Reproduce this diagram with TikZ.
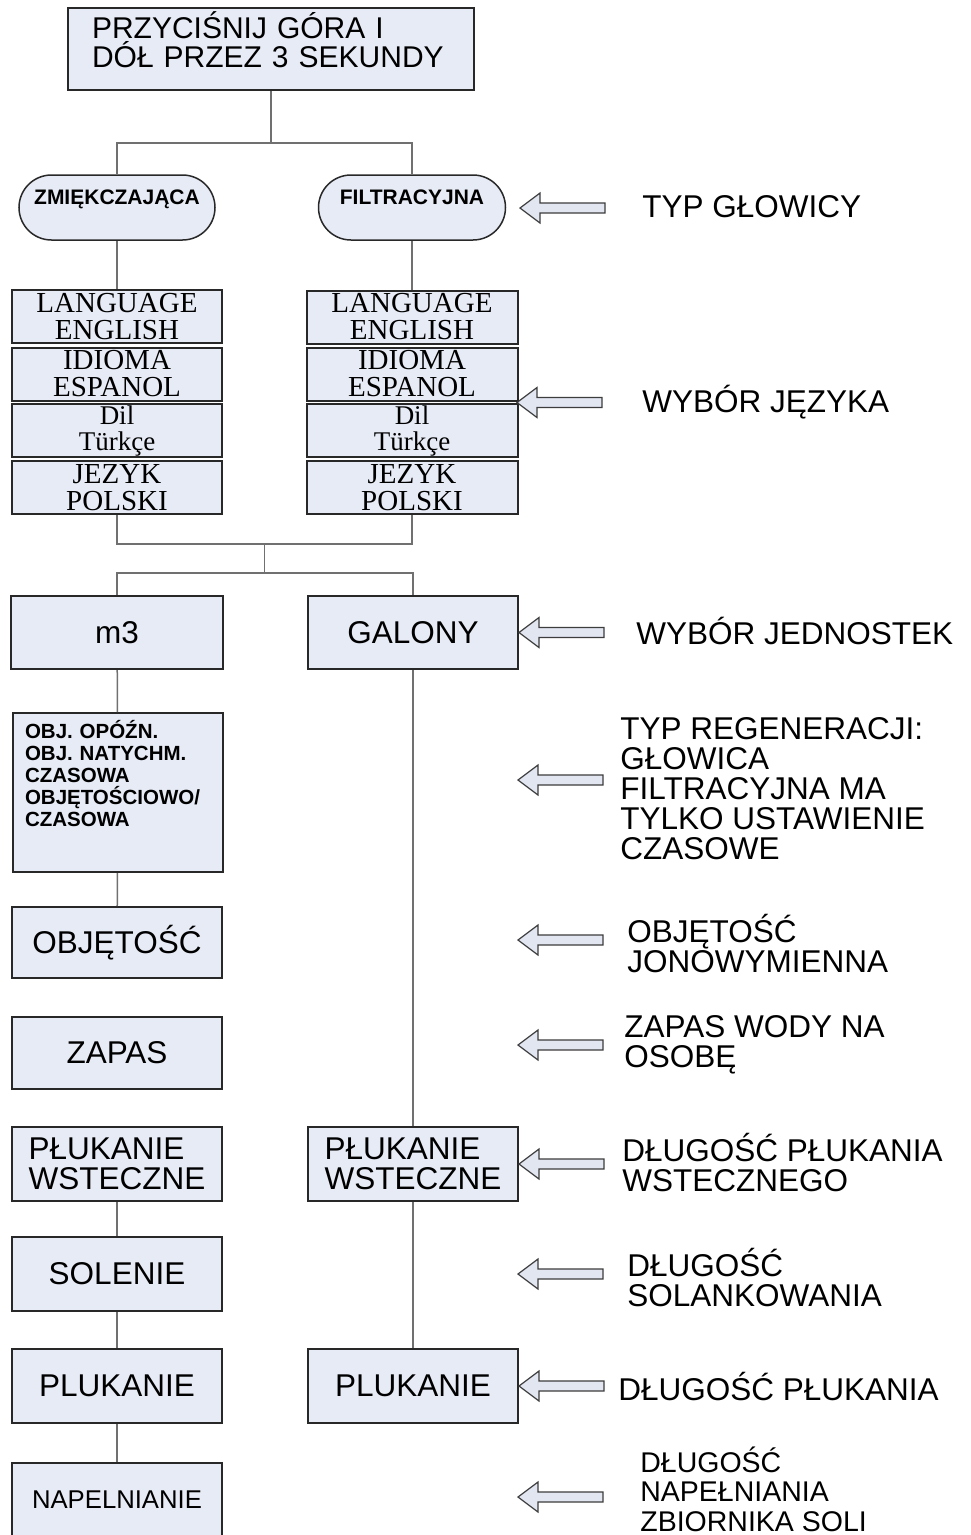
\documentclass[tikz,border=0pt]{standalone}
\usepackage{fontspec}
\setmainfont{Liberation Sans}
\newfontfamily\serifface{Liberation Serif}
\usetikzlibrary{shapes.misc,calc}

\definecolor{boxfill}{RGB}{231,235,245}
\definecolor{boxline}{RGB}{40,40,40}
\definecolor{linkgray}{RGB}{112,112,112}
\definecolor{hintfill}{RGB}{226,230,241}

\tikzset{every picture/.style={line width=0.75pt}}
\tikzset{
  stepbox/.style={draw=boxline, fill=boxfill, line width=2pt, minimum width=210, minimum height=73,
    inner sep=0pt, align=center, font=\fontsize{31.5}{30}\selectfont},
  ovalbox/.style={rounded rectangle, draw=boxline, fill=boxfill, line width=1.5pt, minimum height=65,
    inner sep=0pt, text height=15, text depth=21, font=\bfseries\fontsize{21}{22}\selectfont},
  langbox/.style={stepbox, minimum height=53, font=\serifface\fontsize{29}{27}\selectfont},
  link/.style={draw=linkgray, line width=1.5pt},
  hint/.style={draw=boxline!90, fill=hintfill, line width=1.2pt, line join=miter},
  hinttext/.style={anchor=west, align=left, inner sep=0pt, font=\fontsize{31.5}{30}\selectfont}
}

% block arrow pointing left, tip at #1
\newcommand{\hintarrow}[1]{\draw[hint] #1 -- ++(20,-15) -- ++(0,10) -- ++(65,0) -- ++(0,10) -- ++(-65,0) -- ++(0,10) -- cycle;}

\begin{document}
\begin{tikzpicture}[x=1pt,y=1pt,yscale=-1,xscale=1]
\fill[white] (0,0) rectangle (971,1535);
\clip (0,0) rectangle (971,1535);

% Start
\node[stepbox, minimum width=406, minimum height=82, text width=358, align=left,
  text height=21, text depth=42, font=\fontsize{30}{29}\selectfont] (start) at (271,49)
  {PRZYCIŚNIJ GÓRA I\\DÓŁ PRZEZ 3 SEKUNDY};

% Head type
\node[ovalbox, minimum width=196] (ovL) at (117,207.5) {ZMIĘKCZAJĄCA};
\node[ovalbox, minimum width=187] (ovR) at (412,207.5) {FILTRACYJNA};

% Language
\node[langbox] (lgL1) at (117,316.5) {LANGUAGE\\ENGLISH};
\node[langbox] (lgL2) at (117,374) {IDIOMA\\ESPANOL};
\node[langbox, font=\serifface\fontsize{27}{26}\selectfont] (lgL3) at (117,430.5) {Dil\\Türkçe};
\node[langbox] (lgL4) at (117,487.5) {JEZYK\\POLSKI};
\node[langbox, minimum width=211] (lgR1) at (412,317) {LANGUAGE\\ENGLISH};
\node[langbox, minimum width=211] (lgR2) at (412,374) {IDIOMA\\ESPANOL};
\node[langbox, minimum width=211, font=\serifface\fontsize{27}{26}\selectfont] (lgR3) at (412,430.5) {Dil\\Türkçe};
\node[langbox, minimum width=211] (lgR4) at (412,487.5) {JEZYK\\POLSKI};

% Units
\node[stepbox, minimum width=212] (m3) at (117,632.5) {m3};
\node[stepbox] (galony) at (413,632.5) {GALONY};

% Left column
\node[stepbox, anchor=north west, text width=186, inner xsep=12, inner ysep=10, align=left,
  text height=15, text depth=124, font=\bfseries\fontsize{20.5}{22}\selectfont] (regen) at (12,712)
  {OBJ. OPÓŹN.\\OBJ. NATYCHM.\\CZASOWA\\OBJĘTOŚCIOWO/\\CZASOWA};
\node[stepbox, minimum height=71] (objL) at (117,942.5) {OBJĘTOŚĆ};
\node[stepbox, minimum height=72] (zapas) at (117,1053) {ZAPAS};
\node[stepbox, minimum height=74, align=left] (pwL) at (117,1164) {PŁUKANIE\\WSTECZNE};
\node[stepbox, minimum height=74] (sol) at (117,1274) {SOLENIE};
\node[stepbox, minimum height=74] (plL) at (117,1386) {PLUKANIE};
\node[stepbox, minimum height=92, text height=18.4, text depth=20,
  font=\fontsize{25.7}{26}\selectfont] (nap) at (117,1509) {NAPELNIANIE};

% Right column
\node[stepbox, minimum height=74, align=left] (pwR) at (413,1164) {PŁUKANIE\\WSTECZNE};
\node[stepbox, minimum height=74] (plR) at (413,1386) {PLUKANIE};

%Straight Lines
\draw[link] (start.south) -- ++(0,52) coordinate (split1);
\draw[link] (ovL.north) |- (split1) -| (ovR.north);
\draw[link] (ovL.south) -- (ovL.south |- lgL1.north);
\draw[link] (ovR.south) -- (ovR.south |- lgR1.north);
\draw[link] (lgL4.south) -- ++(0,29) coordinate (mergeL) -| (lgR4.south);
\coordinate (merge) at ($(mergeL)!0.5!(mergeL -| lgR4.south)$);
\draw[link] (merge) -- ++(0,29) coordinate (split2);
\draw[link] (m3.north) |- (split2) -| (galony.north);
\draw[link] (m3) -- (regen);
\draw[link] (regen) -- (objL);
\draw[link] (pwL) -- (sol);
\draw[link] (sol) -- (plL);
\draw[link] (plL) -- (nap);
\draw[link] (galony) -- (pwR);
\draw[link] (pwR) -- (plR);

% Arrows
\hintarrow{(520,208)}
\hintarrow{(517,402.5)}
\hintarrow{(galony.east)}
\hintarrow{(518,780)}
\hintarrow{(518,940)}
\hintarrow{(518,1045)}
\hintarrow{(pwR.east)}
\hintarrow{(518,1274)}
\hintarrow{(plR.east)}
\hintarrow{(518,1497)}

% Text Node
\node[hinttext] (tGlow) at (642,207) {TYP GŁOWICY};
% Text Node
\node[hinttext] (tLang) at (642,402) {WYBÓR JĘZYKA};
% Text Node
\node[hinttext] (tUnit) at (636,631) {WYBÓR JEDNOSTEK};
% Text Node
\node[hinttext] (tRegen) at (620,789) {TYP REGENERACJI:\\GŁOWICA\\FILTRACYJNA MA\\TYLKO USTAWIENIE\\CZASOWE};
% Text Node
\node[hinttext] (tObj) at (627,944) {OBJĘTOŚĆ\\JONOWYMIENNA};
% Text Node
\node[hinttext] (tZapas) at (624,1045) {ZAPAS WODY NA\\OSOBĘ};
% Text Node
\node[hinttext] (tPw) at (622,1163) {DŁUGOŚĆ PŁUKANIA\\WSTECZNEGO};
% Text Node
\node[hinttext] (tSol) at (627,1278) {DŁUGOŚĆ\\SOLANKOWANIA};
% Text Node
\node[hinttext] (tPl) at (618,1387) {DŁUGOŚĆ PŁUKANIA};
% Text Node
\node[hinttext, anchor=south west, font=\fontsize{28.5}{29.5}\selectfont] (tNap) at (640,1532)
  {DŁUGOŚĆ\\NAPEŁNIANIA\\ZBIORNIKA SOLI};

\end{tikzpicture}
\end{document}
